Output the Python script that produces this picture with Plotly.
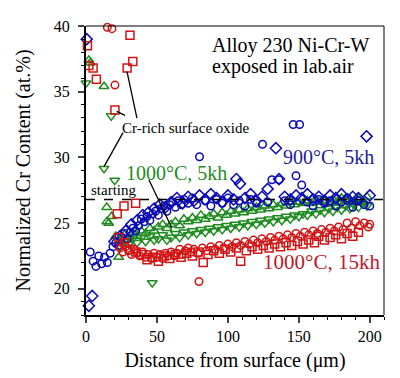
import plotly.graph_objects as go

# ---------------- data ----------------
# 900 C, 5kh  (circles)
bc_x = [3, 5, 7, 9, 11, 13, 15, 17, 19, 21, 23, 25, 27, 29, 31, 33, 35, 37, 39, 41,
        43, 45, 47, 49, 51, 53, 55, 57, 59, 61, 63, 65, 67, 69, 72, 75, 78, 80, 84, 88,
        92, 96, 100, 104, 108, 112, 116, 120, 124.4, 128, 131, 136, 140, 144, 146, 148, 150.5,
        152, 156, 160, 164, 168, 172, 176, 180, 184, 188, 192, 196, 200]
bc_y = [22.8, 22.1, 21.7, 22.5, 21.9, 22.4, 22.0, 22.7, 23.2, 23.5, 23.3, 23.9, 24.2, 23.8, 24.3, 24.6, 24.4, 24.8, 25.3, 25.1,
        25.5, 25.2, 25.7, 25.9, 25.6, 26.1, 26.3, 25.9, 26.4, 26.6, 26.2, 26.7, 26.4, 26.8, 26.5, 26.9, 26.4, 30.05, 26.7, 26.3,
        26.8, 26.5, 26.9, 26.4, 26.7, 26.3, 26.8, 26.5, 31.0, 26.6, 28.3, 28.3, 26.7, 26.4, 32.5, 28.6, 32.5,
        27.9, 26.6, 26.3, 26.8, 26.5, 26.7, 26.3, 26.6, 26.9, 26.2, 26.7, 26.4, 26.3]
# 900 C, 5kh  (diamonds)
bd_x = [0.5, 2, 4.4, 20, 24, 28, 32, 36, 40, 44, 48, 52, 56, 60, 64, 68, 72, 76, 80, 84,
        88, 92, 96, 100, 104, 106, 108.5, 112, 116, 120, 124, 128, 133.8, 136, 140, 144, 148, 152, 156, 160,
        164, 168, 172, 176, 180, 184, 188, 192, 197.7, 200]
bd_y = [39.0, 18.7, 19.45, 23.6, 24.0, 24.4, 24.9, 25.2, 25.6, 25.8, 26.1, 26.4, 26.2, 26.6, 26.9, 26.5, 27.0, 26.7, 27.1, 26.8,
        27.2, 26.9, 26.6, 27.1, 26.8, 28.35, 28.0, 26.9, 27.2, 26.7, 27.0, 27.6, 30.7, 28.35, 27.0, 26.8, 27.1, 26.9, 27.2, 26.8,
        27.0, 26.7, 27.1, 26.9, 27.2, 26.8, 27.0, 26.9, 31.6, 27.1]
# 1000 C, 5kh  (up triangles)
gu_x = [2, 3, 12.7, 14.6, 14.6, 16, 18, 23, 21, 24, 27, 30, 33, 36, 39, 42, 45, 48, 51, 54,
        57, 60, 63, 66, 69, 72, 75, 78, 81, 84, 87, 90, 93, 96, 99, 102, 105, 108, 111, 114,
        117, 120, 123, 126, 129, 132, 135, 138, 141, 144, 147, 150, 153, 156, 159, 162, 165, 168, 171, 174,
        177, 180, 183, 186, 189, 192, 195, 198]
gu_y = [37.4, 37.2, 35.4, 26.2, 25.1, 25.0, 25.5, 22.4, 24.0, 23.7, 24.1, 23.9, 24.3, 24.0, 24.4, 24.2, 24.6, 24.4, 24.7, 24.9,
        24.6, 24.9, 25.1, 24.8, 25.3, 25.1, 25.4, 25.2, 25.6, 25.3, 25.5, 25.7, 25.4, 25.8, 25.6, 25.9, 25.7, 26.0, 25.8, 26.1,
        25.9, 26.2, 26.0, 26.3, 26.1, 26.4, 26.2, 26.5, 26.3, 26.6, 26.4, 26.6, 26.5, 26.7, 26.5, 26.8, 26.6, 26.7, 26.5, 26.8,
        26.6, 26.9, 26.7, 26.8, 26.6, 26.9, 26.7, 27.0]
# 1000 C, 5kh  (down triangles)
gd_x = [0, 17.8, 12.7, 20.2, 46.7, 24, 27, 30, 33, 36, 39, 42, 45, 48, 51, 54, 57, 60, 63, 66,
        69, 72, 75, 78, 81, 84, 87, 90, 93, 96, 99, 102, 105, 108, 111, 114, 117, 120, 123, 126,
        129, 132, 135, 138, 141, 144, 147, 150, 153, 156, 159, 162, 165, 168, 171, 174, 177, 180, 183, 186,
        189, 192, 195, 198]
gd_y = [35.65, 33.15, 29.15, 28.25, 20.45, 23.2, 23.6, 23.4, 23.8, 23.5, 23.9, 23.6, 24.0, 23.7, 23.8, 24.1, 23.7, 23.9, 24.2, 23.9,
        24.3, 24.1, 24.4, 24.2, 24.5, 24.3, 24.6, 24.4, 24.7, 24.5, 24.8, 24.6, 24.9, 24.7, 25.0, 24.8, 25.1, 24.9, 25.2, 25.0,
        25.3, 25.1, 25.4, 25.2, 25.5, 25.3, 25.6, 25.5, 25.7, 25.6, 25.9, 25.7, 26.0, 25.8, 26.1, 25.9, 26.2, 26.0, 26.3, 26.1,
        26.4, 26.2, 26.5, 26.3]
# 1000 C, 15kh  (circles)
rc_x = [15, 18.3, 20.4, 79.6, 24, 26, 28, 30, 32, 34, 36, 38, 40, 42, 44, 46, 48, 50, 52, 54,
        56, 58, 60, 62, 64, 66, 68, 70, 72, 74, 76, 79, 82, 85, 88, 91, 94, 97, 100, 103,
        106, 109, 112, 115, 118, 121, 124, 127, 130, 133, 136, 139, 142, 145, 148, 151, 154, 157, 160, 163,
        166, 169, 172, 175, 178, 181, 184, 187, 190, 193, 196, 199, 200]
rc_y = [39.9, 39.8, 35.5, 20.55, 23.1, 22.8, 23.2, 22.9, 22.6, 23.0, 22.7, 22.5, 22.8, 22.4, 22.6, 22.3, 22.7, 22.4, 22.6, 22.3,
        22.7, 22.5, 22.8, 22.5, 22.7, 23.0, 22.6, 22.9, 23.1, 22.8, 23.0, 22.7, 23.1, 22.9, 23.2, 23.0, 23.3, 23.1, 23.4, 23.2,
        23.5, 23.3, 23.6, 23.4, 23.7, 23.5, 23.8, 23.6, 23.9, 23.7, 24.0, 23.8, 24.1, 23.9, 24.2, 24.0, 24.3, 24.1, 24.4, 24.2,
        24.5, 24.3, 24.6, 24.4, 24.7, 24.5, 25.0, 24.6, 25.1, 24.8, 25.0, 24.7, 24.9]
# 1000 C, 15kh  (squares)
rs_x = [1, 2, 5, 7.3, 29, 31, 33, 20.4, 22, 26.8, 35, 82.6, 109, 23, 27, 31, 35, 39, 43, 47,
        51, 55, 59, 63, 67, 71, 75, 79, 86, 90, 94, 98, 102, 106, 113, 117, 121, 125, 129, 133,
        137, 141, 145, 149, 153, 157, 161, 164, 168, 172, 176, 180, 184, 188, 192]
rs_y = [38.5, 37.0, 36.8, 35.95, 36.8, 39.3, 37.3, 33.6, 25.7, 26.3, 26.5, 22.0, 22.1, 23.9, 23.5, 23.0, 22.8, 22.6, 22.2, 22.4,
        22.1, 22.5, 22.3, 22.6, 22.4, 22.7, 22.5, 22.8, 22.6, 22.9, 22.7, 23.0, 22.8, 23.1, 22.9, 23.2, 23.0, 23.3, 23.1, 23.4,
        23.2, 23.5, 23.3, 23.6, 23.4, 23.7, 23.5, 24.0, 23.7, 23.9, 24.1, 23.8, 24.2, 24.0, 24.3]

starting_level = 26.8
x_ticks = [0, 50, 100, 150, 200]
y_ticks = [20, 25, 30, 35, 40]

BLUE = "#0a0ab4"
GREEN = "#1e8c1e"
RED = "#d21414"
FONT = "Liberation Serif, Times New Roman, serif"

fig = go.Figure()

def add(x, y, sym, color, size):
    fig.add_trace(go.Scatter(
        x=x, y=y, mode="markers", cliponaxis=False,
        marker=dict(symbol=sym, size=size, color=color,
                    line=dict(color=color, width=1.5)),
        showlegend=False, hoverinfo="skip"))

add(gu_x, gu_y, "triangle-up-open", GREEN, 8.5)
add(gd_x, gd_y, "triangle-down-open", GREEN, 8.5)
add(bc_x, bc_y, "circle-open", BLUE, 7.5)
add(bd_x, bd_y, "diamond-open", BLUE, 8.5)
add(rc_x, rc_y, "circle-open", RED, 7.5)
add(rs_x, rs_y, "square-open", RED, 8)

shapes = [
    dict(type="line", xref="x", yref="y", x0=0, x1=210, y0=starting_level, y1=starting_level,
         line=dict(color="black", width=1.5, dash="dash")),
    dict(type="line", xref="paper", yref="paper", x0=0, x1=1, y0=1, y1=1, line=dict(color="black", width=1)),
    dict(type="line", xref="paper", yref="paper", x0=1, x1=1, y0=0, y1=1, line=dict(color="black", width=1)),
    # pointer lines
    dict(type="line", xref="x", yref="y", x0=35.9, y0=32.98, x1=28.9, y1=36.52, line=dict(color="black", width=1.3)),
    dict(type="line", xref="x", yref="y", x0=27.5, y0=33.2, x1=21.6, y1=33.5, line=dict(color="black", width=1.3)),
    dict(type="line", xref="x", yref="y", x0=26.1, y0=31.88, x1=12.7, y1=29.3, line=dict(color="black", width=1.3)),
    dict(type="line", xref="x", yref="y", x0=44.4, y0=28.27, x1=60.6, y1=24.6, line=dict(color="black", width=1.3)),
]

def txt(x, y, s, size, color="black", xanchor="center"):
    return dict(x=x, y=y, xref="x", yref="y", text=s, showarrow=False, xanchor=xanchor,
                font=dict(family=FONT, size=size, color=color))

annotations = [
    txt(87.4, 38.5, "Alloy 230 Ni-Cr-W", 20, xanchor="left"),
    txt(87.4, 36.88, "exposed in lab.air", 20, xanchor="left"),
    txt(69.8, 32.24, "Cr-rich surface oxide", 15),
    txt(19.4, 27.53, "starting", 15),
    txt(64.1, 28.8, "1000°C, 5kh", 20, GREEN),
    txt(171.2, 30.04, "900°C, 5kh", 20, "#1c1c9c"),
    txt(166, 22.0, "1000°C, 15kh", 21, "#c01828"),
]

fig.update_layout(
    width=392, height=370,
    margin=dict(l=78, r=16, t=10, b=62),
    paper_bgcolor="white", plot_bgcolor="white",
    font=dict(family=FONT, size=16, color="black"),
    shapes=shapes, annotations=annotations,
    xaxis=dict(range=[0, 210], tickvals=x_ticks, ticks="outside", ticklen=6, tickwidth=1.5,
               minor=dict(dtick=10, ticks="outside", ticklen=3, tickwidth=1.2, tickcolor="black"),
               showline=True, linewidth=2, linecolor="black", showgrid=False, zeroline=False,
               tickfont=dict(family=FONT, size=16),
               title=dict(text="Distance from surface (μm)", font=dict(family=FONT, size=20), standoff=9)),
    yaxis=dict(range=[18, 40], tickvals=y_ticks, ticks="outside", ticklen=6, tickwidth=1.5,
               minor=dict(dtick=1, ticks="outside", ticklen=3, tickwidth=1.2, tickcolor="black"),
               showline=True, linewidth=2, linecolor="black", showgrid=False, zeroline=False,
               tickfont=dict(family=FONT, size=16), ticklabelstandoff=5,
               title=dict(text="Normalized Cr Content (at.%)", font=dict(family=FONT, size=20), standoff=18)),
)

fig.write_html("out.html")
